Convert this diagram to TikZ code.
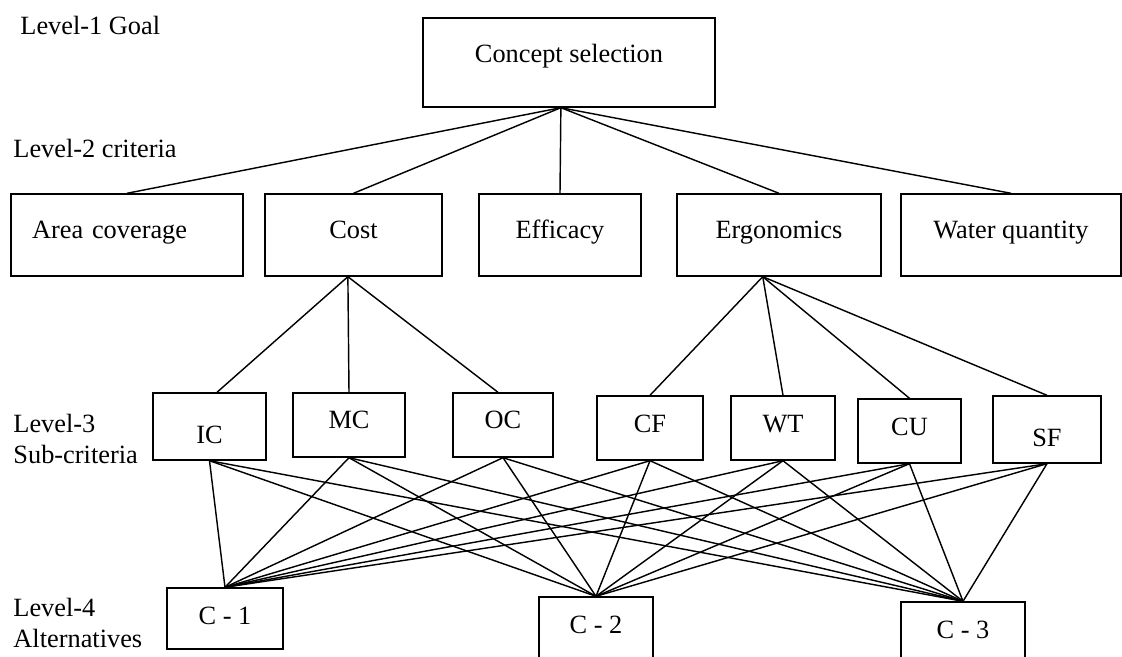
\documentclass[tikz,border=0pt]{standalone}
\usepackage{fontspec}
\setmainfont{Liberation Serif}

\begin{document}
\begin{tikzpicture}[
x=0.016cm,y=-0.016cm,
every node/.style={font=\fontsize{12}{13.8}\selectfont,inner sep=0pt},
box/.style={rectangle,draw,line width=0.65pt,text height=7.74pt},
goalbox/.style={box,text depth=7.3pt},
critbox/.style={box,minimum height=1.312cm,text depth=5pt},
subbox/.style={box,minimum height=1.024cm,text depth=4.1pt},
lowbox/.style={box,minimum height=1.072cm,text height=18.2pt,text depth=2.3pt},
altbox/.style={box,minimum height=0.976cm,text depth=2.7pt},
level/.style={align=left,anchor=north west},
link/.style={line width=0.65pt}
]
\useasboundingbox (0,0) rectangle (1122,657);

% level names
\node[anchor=base west] (lone) at (20,34) {Level-1 Goal};
\node[anchor=base west] (ltwo) at (13,157) {Level-2 criteria};
\node[level] (lthree) at (13,414) {Level-3\\Sub-criteria};
\node[level] (lfour) at (13,598) {Level-4\\Alternatives};

% goal
\node[goalbox,minimum width=4.672cm,minimum height=1.424cm] (goal) at (569,62.5) {Concept selection};

% criteria
\node[critbox,minimum width=3.712cm,text width=3.04cm,align=left] (area) at (127,235) {Area coverage};
\node[critbox,minimum width=2.832cm] (cost) at (353.5,235) {Cost};
\node[critbox,minimum width=2.592cm] (eff) at (560,235) {Efficacy};
\node[critbox,minimum width=3.264cm] (ergo) at (779,235) {Ergonomics};
\node[critbox,minimum width=3.52cm] (water) at (1011,235) {Water quantity};

% sub-criteria
\node[lowbox,minimum width=1.808cm] (ic) at (209.5,426.5) {IC};
\node[subbox,minimum width=1.792cm] (mc) at (349,425) {MC};
\node[subbox,minimum width=1.6cm] (oc) at (503,425) {OC};
\node[subbox,minimum width=1.696cm] (cf) at (650,428) {CF};
\node[subbox,minimum width=1.664cm] (wt) at (783,428) {WT};
\node[subbox,minimum width=1.648cm] (cu) at (909.5,431) {CU};
\node[lowbox,minimum width=1.728cm] (sf) at (1047,429.5) {SF};

% alternatives
\node[altbox,minimum width=1.856cm] (cone) at (225,618.5) {C - 1};
\node[altbox,minimum width=1.824cm] (ctwo) at (596,627.5) {C - 2};
\node[altbox,minimum width=1.984cm] (cthree) at (963,632.5) {C - 3};

% links
\foreach \c in {area,cost,eff,ergo,water}
  \draw[link] ([xshift=-0.13cm]goal.south) -- (\c.north);
\draw[link] ([xshift=-0.09cm]cost.south) -- ([xshift=0.12cm]ic.north);
\draw[link] ([xshift=-0.09cm]cost.south) -- (mc.north);
\draw[link] ([xshift=-0.09cm]cost.south) -- ([xshift=-0.08cm]oc.north);
\foreach \s in {cf,wt,cu,sf}
  \draw[link] ([xshift=-0.26cm]ergo.south) -- (\s.north);
\foreach \s in {ic,mc,oc,cf,wt,cu,sf}
  \foreach \a in {cone,ctwo,cthree}
    \draw[link] (\s.south) -- (\a.north);
\end{tikzpicture}
\end{document}
